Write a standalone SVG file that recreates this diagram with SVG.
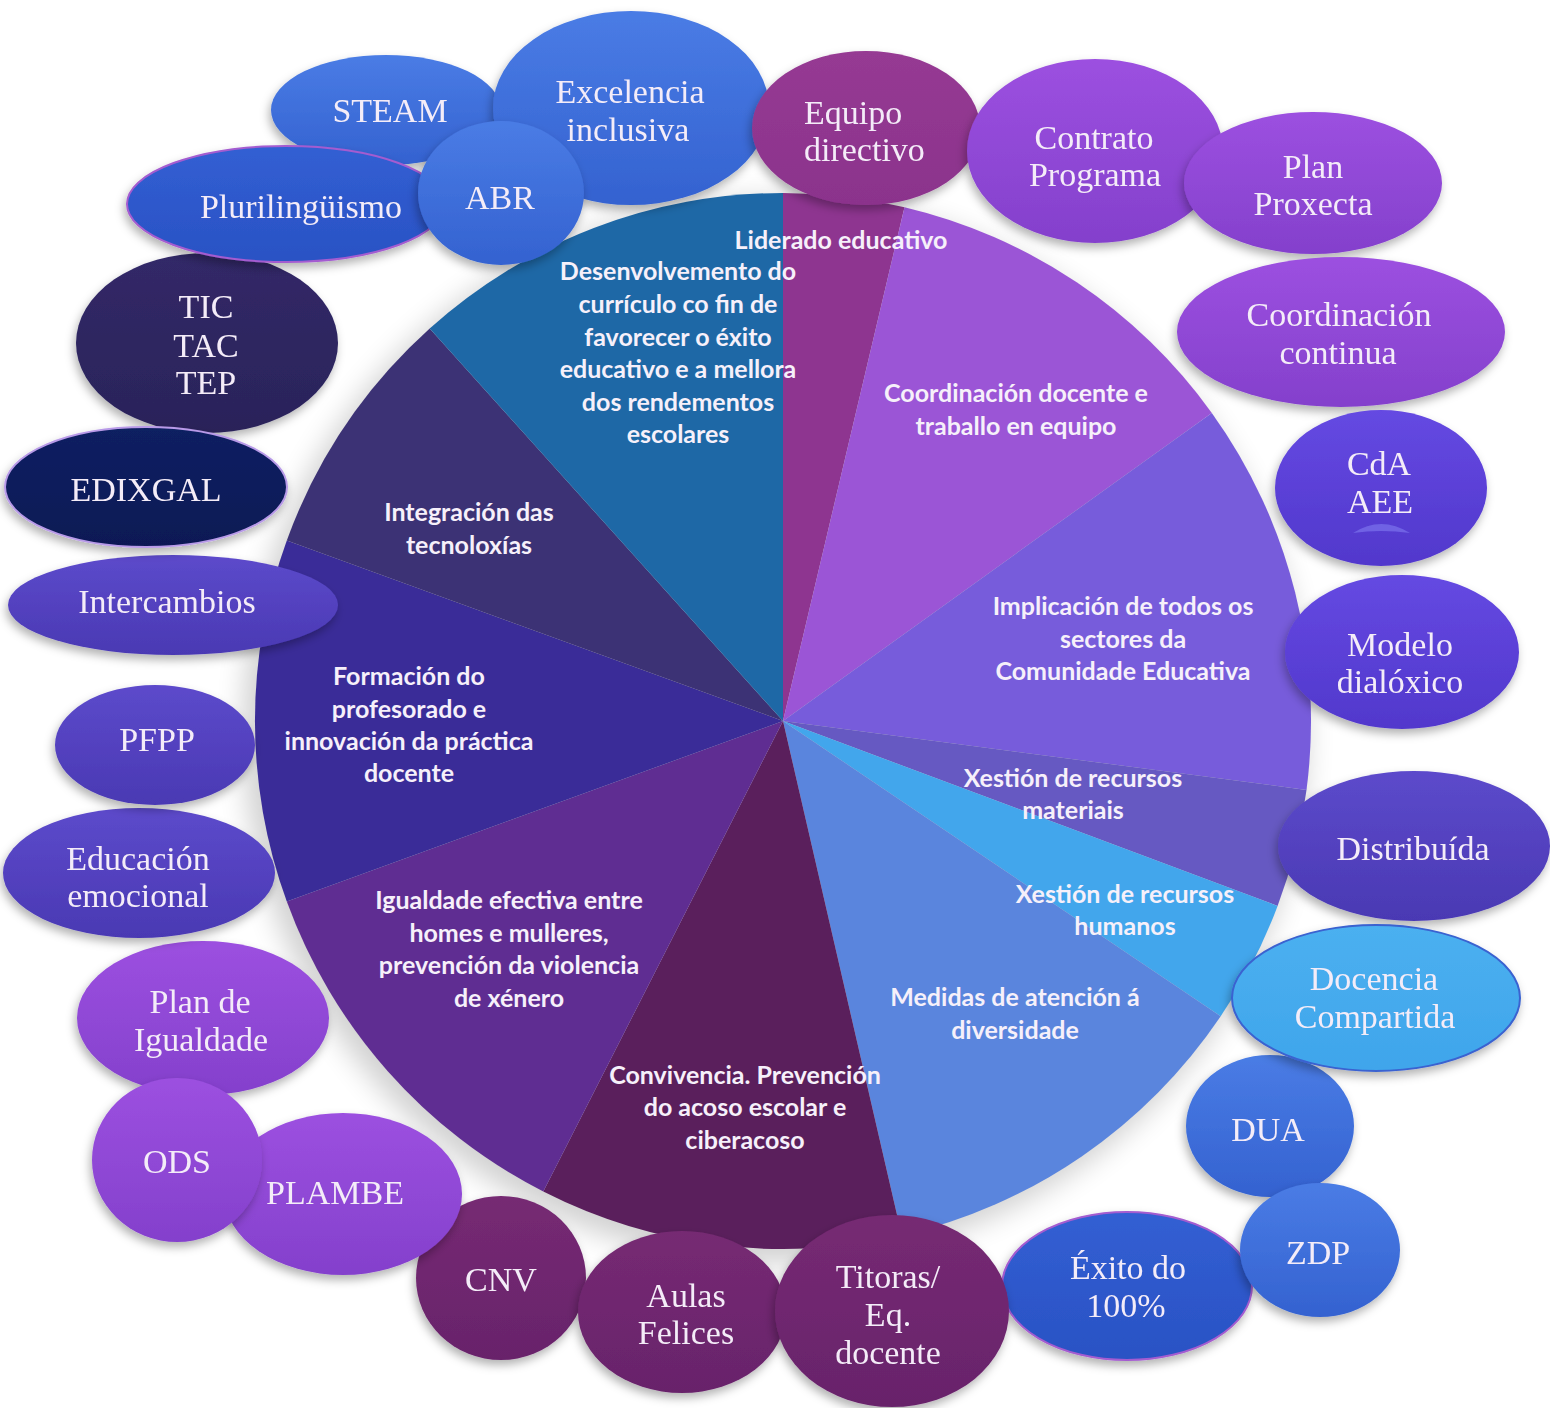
<svg xmlns="http://www.w3.org/2000/svg" width="1550" height="1408" viewBox="0 0 1550 1408">
<defs>
<style>
.lbl{font-family:"Liberation Serif","Times New Roman",serif;font-size:34px;fill:#F4ECF8;text-anchor:middle}
.pl{font-family:Lato,"Open Sans","Liberation Sans",sans-serif;font-weight:700;font-size:25px;fill:#F6F0FA;text-anchor:middle}
.node{filter:url(#sh)}
</style>
<filter id="sh" x="-20%" y="-20%" width="140%" height="150%">
<feDropShadow dx="-2" dy="5" stdDeviation="5" flood-color="#000" flood-opacity="0.3"/>
</filter>
<filter id="pieSh" x="-10%" y="-10%" width="120%" height="120%">
<feGaussianBlur stdDeviation="14"/>
</filter>
<linearGradient id="gBlue" x1="0" y1="0" x2="0" y2="1"><stop offset="0" stop-color="#4A7CE5"/><stop offset="1" stop-color="#3462D0"/></linearGradient>
<linearGradient id="gBlueD" x1="0" y1="0" x2="0" y2="1"><stop offset="0" stop-color="#325FD3"/><stop offset="1" stop-color="#2A52C4"/></linearGradient>
<linearGradient id="gMag" x1="0" y1="0" x2="0" y2="1"><stop offset="0" stop-color="#963A93"/><stop offset="1" stop-color="#8B338C"/></linearGradient>
<linearGradient id="gViol" x1="0" y1="0" x2="0" y2="1"><stop offset="0" stop-color="#9C50E0"/><stop offset="1" stop-color="#8440CC"/></linearGradient>
<linearGradient id="gInd" x1="0" y1="0" x2="0" y2="1"><stop offset="0" stop-color="#6549E2"/><stop offset="1" stop-color="#5138CC"/></linearGradient>
<linearGradient id="gInd2" x1="0" y1="0" x2="0" y2="1"><stop offset="0" stop-color="#5C4ACB"/><stop offset="1" stop-color="#4A39B3"/></linearGradient>
<linearGradient id="gLight" x1="0" y1="0" x2="0" y2="1"><stop offset="0" stop-color="#4BB0F0"/><stop offset="1" stop-color="#3FA5EB"/></linearGradient>
<linearGradient id="gPlum" x1="0" y1="0" x2="0" y2="1"><stop offset="0" stop-color="#762A73"/><stop offset="1" stop-color="#68236B"/></linearGradient>
<linearGradient id="gNavy" x1="0" y1="0" x2="0" y2="1"><stop offset="0" stop-color="#102062"/><stop offset="1" stop-color="#0C1955"/></linearGradient>
<linearGradient id="gDark" x1="0" y1="0" x2="0" y2="1"><stop offset="0" stop-color="#322968"/><stop offset="1" stop-color="#2A2359"/></linearGradient>
</defs>
<rect width="1550" height="1408" fill="#FFFFFF"/>

<!-- pie -->
<g id="pie">
<circle cx="775" cy="731" r="532" fill="#000" opacity="0.18" filter="url(#pieSh)"/>
<g id="slice-liderado"><path d="M783,721 L783,193 A528,528 0 0 1 904.5,207.2 Z" fill="#8E3590"/></g>
<g id="slice-coordinacion"><path d="M783,721 L904.5,207.2 A528,528 0 0 1 1211.8,412.9 Z" fill="#9B55D6"/></g>
<g id="slice-implicacion"><path d="M783,721 L1211.8,412.9 A528,528 0 0 1 1306.5,789.9 Z" fill="#775CDB"/></g>
<g id="slice-materiais"><path d="M783,721 L1306.5,789.9 A528,528 0 0 1 1277.6,905.9 Z" fill="#6659C2"/></g>
<g id="slice-humanos"><path d="M783,721 L1277.6,905.9 A528,528 0 0 1 1220.7,1016.3 Z" fill="#42A6EC"/></g>
<g id="slice-medidas"><path d="M783,721 L1220.7,1016.3 A528,528 0 0 1 901.8,1235.5 Z" fill="#5A85DD"/></g>
<g id="slice-convivencia"><path d="M783,721 L901.8,1235.5 A528,528 0 0 1 543.3,1191.5 Z" fill="#5A1F5C"/></g>
<g id="slice-igualdade"><path d="M783,721 L543.3,1191.5 A528,528 0 0 1 286.8,901.6 Z" fill="#5F2D92"/></g>
<g id="slice-formacion"><path d="M783,721 L286.8,901.6 A528,528 0 0 1 286.8,540.4 Z" fill="#3A2C98"/></g>
<g id="slice-integracion"><path d="M783,721 L286.8,540.4 A528,528 0 0 1 429.7,328.6 Z" fill="#3C3275"/></g>
<g id="slice-desenvolvemento"><path d="M783,721 L429.7,328.6 A528,528 0 0 1 783,193 Z" fill="#1E68A6"/></g>
</g>

<g id="pie-labels">
<text class="pl" x="841" y="249">Liderado educativo</text>
<text class="pl"><tspan x="678" y="280">Desenvolvemento do</tspan><tspan x="678" y="313">currículo co fin de</tspan><tspan x="678" y="346">favorecer o éxito</tspan><tspan x="678" y="378">educativo e a mellora</tspan><tspan x="678" y="411">dos rendementos</tspan><tspan x="678" y="443">escolares</tspan></text>
<text class="pl"><tspan x="1016" y="402">Coordinación docente e</tspan><tspan x="1016" y="435">traballo en equipo</tspan></text>
<text class="pl"><tspan x="1123" y="615">Implicación de todos os</tspan><tspan x="1123" y="648">sectores da</tspan><tspan x="1123" y="680">Comunidade Educativa</tspan></text>
<text class="pl"><tspan x="1073" y="787">Xestión de recursos</tspan><tspan x="1073" y="819">materiais</tspan></text>
<text class="pl"><tspan x="1125" y="903">Xestión de recursos</tspan><tspan x="1125" y="935">humanos</tspan></text>
<text class="pl"><tspan x="1015" y="1006">Medidas de atención á</tspan><tspan x="1015" y="1039">diversidade</tspan></text>
<text class="pl"><tspan x="745" y="1084">Convivencia. Prevención</tspan><tspan x="745" y="1116">do acoso escolar e</tspan><tspan x="745" y="1149">ciberacoso</tspan></text>
<text class="pl"><tspan x="509" y="909">Igualdade efectiva entre</tspan><tspan x="509" y="942">homes e mulleres,</tspan><tspan x="509" y="974">prevención da violencia</tspan><tspan x="509" y="1007">de xénero</tspan></text>
<text class="pl"><tspan x="409" y="685">Formación do</tspan><tspan x="409" y="718">profesorado e</tspan><tspan x="409" y="750">innovación da práctica</tspan><tspan x="409" y="782">docente</tspan></text>
<text class="pl"><tspan x="469" y="521">Integración das</tspan><tspan x="469" y="554">tecnoloxías</tspan></text>
</g>

<g id="connectors"/>

<g id="nodes">
<g id="n-tic" class="node"><ellipse cx="207" cy="343" rx="131" ry="90" fill="url(#gDark)"/><text class="lbl"><tspan x="206" y="318">TIC</tspan><tspan x="206" y="357">TAC</tspan><tspan x="206" y="394">TEP</tspan></text></g>
<g id="n-steam" class="node"><ellipse cx="386" cy="110" rx="115" ry="55" fill="url(#gBlue)"/><text class="lbl" x="390" y="122">STEAM</text></g>
<g id="n-excelencia" class="node"><ellipse cx="631" cy="108" rx="138" ry="97" fill="url(#gBlue)"/><text class="lbl"><tspan x="630" y="103">Excelencia</tspan><tspan x="628" y="141">inclusiva</tspan></text></g>
<g id="n-plurilinguismo" class="node"><ellipse cx="286" cy="204" rx="159" ry="58" fill="url(#gBlueD)" stroke="#A45CD0" stroke-width="2"/><text class="lbl" x="301" y="218">Plurilingüismo</text></g>
<g id="n-abr" class="node"><ellipse cx="501" cy="193" rx="83" ry="72" fill="url(#gBlue)"/><text class="lbl" x="500" y="209">ABR</text></g>
<g id="n-equipo" class="node"><ellipse cx="866" cy="128" rx="114" ry="77" fill="url(#gMag)"/><text class="lbl" style="text-anchor:start"><tspan x="804" y="124">Equipo</tspan><tspan x="804" y="161">directivo</tspan></text></g>
<g id="n-contrato" class="node"><ellipse cx="1095" cy="151" rx="128" ry="92" fill="url(#gViol)"/><text class="lbl"><tspan x="1094" y="149">Contrato</tspan><tspan x="1095" y="186">Programa</tspan></text></g>
<g id="n-proxecta" class="node"><ellipse cx="1313" cy="183" rx="129" ry="71" fill="url(#gViol)"/><text class="lbl"><tspan x="1313" y="178">Plan</tspan><tspan x="1313" y="215">Proxecta</tspan></text></g>
<g id="n-coordinacion" class="node"><ellipse cx="1341" cy="332" rx="164" ry="75" fill="url(#gViol)"/><text class="lbl"><tspan x="1339" y="326">Coordinación</tspan><tspan x="1338" y="364">continua</tspan></text></g>
<g id="n-cda" class="node"><ellipse cx="1381" cy="488" rx="106" ry="78" fill="url(#gInd)"/><path d="M1353,533 Q1381,515 1410,533 Q1381,529 1353,533 Z" fill="#6F62E4"/><text class="lbl"><tspan x="1379" y="475">CdA</tspan><tspan x="1380" y="513">AEE</tspan></text></g>
<g id="n-modelo" class="node"><ellipse cx="1402" cy="652" rx="117" ry="77" fill="url(#gInd)"/><text class="lbl"><tspan x="1400" y="656">Modelo</tspan><tspan x="1400" y="693">dialóxico</tspan></text></g>
<g id="n-distribuida" class="node"><ellipse cx="1414" cy="846" rx="136" ry="75" fill="url(#gInd2)"/><text class="lbl" x="1413" y="860">Distribuída</text></g>
<g id="n-dua" class="node"><ellipse cx="1270" cy="1126" rx="84" ry="71" fill="url(#gBlue)"/><text class="lbl" x="1268" y="1141">DUA</text></g>
<g id="n-docencia" class="node"><ellipse cx="1376" cy="998" rx="144" ry="73" fill="url(#gLight)" stroke="#3A62D0" stroke-width="2"/><text class="lbl"><tspan x="1374" y="990">Docencia</tspan><tspan x="1375" y="1028">Compartida</tspan></text></g>
<g id="n-exito" class="node"><ellipse cx="1127" cy="1286" rx="125" ry="74" fill="url(#gBlueD)" stroke="#A45CD0" stroke-width="2"/><text class="lbl"><tspan x="1128" y="1279">Éxito do</tspan><tspan x="1126" y="1317">100%</tspan></text></g>
<g id="n-zdp" class="node"><ellipse cx="1320" cy="1250" rx="80" ry="67" fill="url(#gBlue)"/><text class="lbl" x="1318" y="1264">ZDP</text></g>
<g id="n-cnv" class="node"><ellipse cx="501" cy="1278" rx="85" ry="82" fill="url(#gPlum)"/><text class="lbl" x="501" y="1291">CNV</text></g>
<g id="n-aulas" class="node"><ellipse cx="682" cy="1312" rx="104" ry="81" fill="url(#gPlum)"/><text class="lbl"><tspan x="686" y="1307">Aulas</tspan><tspan x="686" y="1344">Felices</tspan></text></g>
<g id="n-titoras" class="node"><ellipse cx="892" cy="1311" rx="117" ry="96" fill="url(#gPlum)"/><text class="lbl"><tspan x="888" y="1288">Titoras/</tspan><tspan x="888" y="1326">Eq.</tspan><tspan x="888" y="1364">docente</tspan></text></g>
<g id="n-igualdade" class="node"><ellipse cx="203" cy="1018" rx="126" ry="77" fill="url(#gViol)"/><text class="lbl"><tspan x="200" y="1013">Plan de</tspan><tspan x="201" y="1051">Igualdade</tspan></text></g>
<g id="n-plambe" class="node"><ellipse cx="343" cy="1194" rx="119" ry="81" fill="url(#gViol)"/><text class="lbl" x="335" y="1204">PLAMBE</text></g>
<g id="n-ods" class="node"><ellipse cx="177" cy="1160" rx="85" ry="82" fill="url(#gViol)"/><text class="lbl" x="177" y="1173">ODS</text></g>
<g id="n-educacion" class="node"><ellipse cx="139" cy="873" rx="136" ry="65" fill="url(#gInd2)"/><text class="lbl"><tspan x="138" y="870">Educación</tspan><tspan x="138" y="907">emocional</tspan></text></g>
<g id="n-pfpp" class="node"><ellipse cx="155" cy="745" rx="100" ry="60" fill="url(#gInd2)"/><text class="lbl" x="157" y="751">PFPP</text></g>
<g id="n-intercambios" class="node"><ellipse cx="173" cy="605" rx="165" ry="50" fill="url(#gInd2)"/><text class="lbl" x="167" y="613">Intercambios</text></g>
<g id="n-edixgal" class="node"><ellipse cx="146" cy="487" rx="141" ry="60" fill="url(#gNavy)" stroke="#B89AE8" stroke-width="2"/><text class="lbl" x="146" y="501">EDIXGAL</text></g>
</g>
</svg>
